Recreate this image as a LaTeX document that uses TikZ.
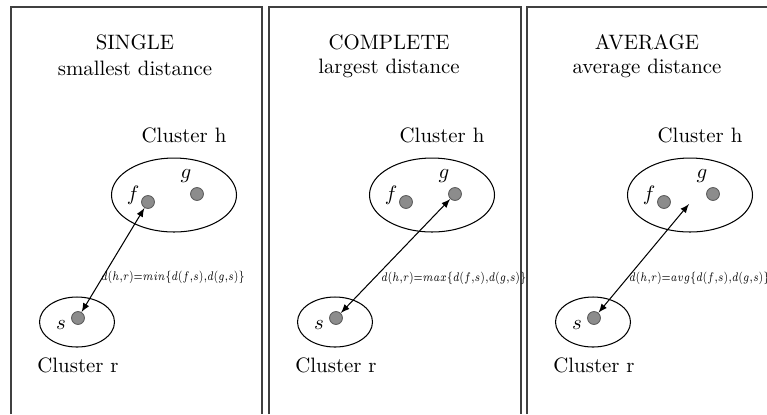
\documentclass[tikz,border=0pt]{standalone}
\usepackage{tikz}
\usepackage{xcolor}
\usetikzlibrary{shapes.geometric}
\usetikzlibrary{arrows}

\begin{document}
\begin{tikzpicture}[x=0.48pt,y=-0.48pt,
	frame/.style={black!75,line width=0.8pt},
	clusterh/.style={draw,ellipse,line width=0.5pt,minimum width=60pt,minimum height=35.5pt,inner sep=0pt},
	clusterr/.style={draw,ellipse,line width=0.5pt,minimum width=36pt,minimum height=24pt,inner sep=0pt},
	dot/.style={circle,fill=black!45,draw=black!65,line width=0.4pt,minimum size=6.2pt,inner sep=0pt},
	dist/.style={anchor=west,inner sep=0pt,xscale=0.78,font=\fontsize{6}{7}\selectfont},
	link/.style={latex-latex,line width=0.5pt}]
	\useasboundingbox (0,0) rectangle (767,414);

	\draw[frame] (11,414) -- (11,7) -- (262,7) -- (262,414);  % Frames
	\draw[frame] (269,414) -- (269,7) -- (521,7) -- (521,414);
	\draw[frame] (527,414) -- (527,7) -- (767,7);

	% SINGLE
	\node (t1) at (135,42) {SINGLE};
	\node (st1) at (135,68) {smallest distance};
	\node (nh1) at (184,135) {Cluster h};
	\node[clusterh] (ch1) at (174,195) {};
	\node[dot] (f1) at (148,202) {}; % f
	\node[dot] (g1) at (197,194) {}; % g
	\node (lf1) at (133,195) {$f$};
	\node (lg1) at (186,176) {$g$};
	\node[clusterr] (cr1) at (77,322) {};
	\node[dot] (s1) at (78,318) {}; % s
	\node (ls1) at (61,325) {$s$};
	\node (nr1) at (78,365) {Cluster r};
	\draw[link] (s1) -- (f1);
	\node[dist] (d1) at (101,277) {$d(h{,}r){=}min\{d(f{,}s){,}d(g{,}s)\}$};

	% COMPLETE
	\node (t2) at (389,42) {COMPLETE};
	\node (st2) at (389,68) {largest distance};
	\node (nh2) at (442,135) {Cluster h};
	\node[clusterh] (ch2) at (432,195) {};
	\node[dot] (f2) at (406,202) {}; % f
	\node[dot] (g2) at (455,194) {}; % g
	\node (lf2) at (391,195) {$f$};
	\node (lg2) at (444,176) {$g$};
	\node[clusterr] (cr2) at (335,322) {};
	\node[dot] (s2) at (336,318) {}; % s
	\node (ls2) at (319,325) {$s$};
	\node (nr2) at (336,365) {Cluster r};
	\draw[link] (s2) -- (g2);
	\node[dist] (d2) at (381,278) {$d(h{,}r){=}max\{d(f{,}s){,}d(g{,}s)\}$};

	% AVERAGE
	\node (t3) at (647,42) {AVERAGE};
	\node (st3) at (647,68) {average distance};
	\node (nh3) at (700,135) {Cluster h};
	\node[clusterh] (ch3) at (690,195) {};
	\node[dot] (f3) at (664,202) {}; % f
	\node[dot] (g3) at (713,194) {}; % g
	\node (lf3) at (649,195) {$f$};
	\node (lg3) at (702,176) {$g$};
	\coordinate (m3) at (689,204);
	\node[clusterr] (cr3) at (593,322) {};
	\node[dot] (s3) at (594,318) {}; % s
	\node (ls3) at (577,325) {$s$};
	\node (nr3) at (594,365) {Cluster r};
	\draw[link] (s3) -- (m3);
	\node[dist] (d3) at (629,278) {$d(h{,}r){=}avg\{d(f{,}s){,}d(g{,}s)\}$};
\end{tikzpicture}
\end{document}
